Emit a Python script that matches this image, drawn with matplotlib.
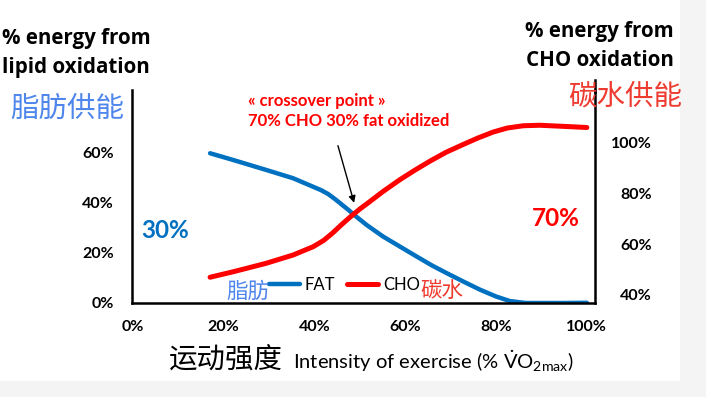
import matplotlib.pyplot as plt
from matplotlib.patches import Rectangle
from matplotlib.lines import Line2D

plt.rcParams['font.family'] = ['Lato', 'Noto Sans CJK SC', 'DejaVu Sans']
plt.rcParams['mathtext.fontset'] = 'custom'
plt.rcParams['mathtext.rm'] = 'Lato'
plt.rcParams['mathtext.it'] = 'Lato:italic'
plt.rcParams['mathtext.bf'] = 'Lato:bold'

# data (% VO2max vs % energy)
fat_x = [17.0, 22.1, 29.4, 35.3, 39.7, 41.5, 43.0, 44.5, 46.0, 47.5, 48.9, 51.5, 55.1, 58.8,
         62.5, 66.0, 69.5, 73.0, 76.5, 80.0, 83.0, 86.5, 90.0, 95.0, 100.0]
fat_y = [59.9, 57.2, 53.2, 49.9, 46.5, 45.1, 43.6, 41.6, 39.4, 37.2, 35.0, 31.2, 26.6, 22.6,
         18.6, 14.9, 11.6, 8.4, 5.3, 2.6, 0.8, 0.0, 0.0, 0.0, 0.1]
cho_x = [17.0, 22.1, 29.4, 35.3, 39.7, 42.0, 44.0, 46.0, 48.0, 50.0, 52.0, 55.1, 58.8, 62.0,
         65.5, 69.0, 72.5, 76.0, 79.4, 82.5, 86.0, 89.6, 95.5, 100.0]
cho_y = [10.3, 12.5, 15.9, 19.2, 22.5, 25.0, 28.0, 31.4, 34.6, 37.6, 40.3, 44.6, 49.3, 53.0,
         56.8, 60.3, 63.2, 66.0, 68.4, 70.0, 70.9, 71.1, 70.6, 70.2]

x_ticks = [0, 20, 40, 60, 80, 100]
left_ticks = [0, 20, 40, 60]
right_ticks = [40, 60, 80, 100]

W, H = 706, 397
fig = plt.figure(figsize=(W / 100, H / 100), dpi=100)
fig.patch.set_facecolor('white')


def px(x, y):
    return x / W, 1 - y / H


# grey border of the screenshot
fig.patches.append(Rectangle((680 / W, 0), 26 / W, 1, transform=fig.transFigure,
                             facecolor='#f4f4f4', edgecolor='none', zorder=0))
fig.patches.append(Rectangle((0, 0), 1, 1 - 381 / H, transform=fig.transFigure,
                             facecolor='#f4f4f4', edgecolor='none', zorder=0))

ax = fig.add_axes([132 / W, 1 - 303 / H, (595 - 132) / W, (303 - 90) / H])
ax.patch.set_alpha(0)
ax.plot(fat_x, fat_y, color='#0070C0', lw=3.2, solid_capstyle='round',
        solid_joinstyle='round', label='FAT')
ax.plot(cho_x, cho_y, color='#FF0000', lw=3.6, solid_capstyle='round',
        solid_joinstyle='round', label='CHO')
ax.set_xlim(-0.2, 101.8)
ax.set_ylim(0, 85.2)
ax.set_xticks(x_ticks)
ax.set_xticklabels([f'{t}%' for t in x_ticks], fontsize=11.5, fontweight='bold')
ax.set_yticks(left_ticks)
ax.set_yticklabels([f'{t}%' for t in left_ticks], fontsize=11.5, fontweight='bold')
ax.tick_params(axis='x', length=0, pad=12)
ax.tick_params(axis='y', length=0, pad=13)
for s in ['top', 'right']:
    ax.spines[s].set_visible(False)
for s in ['left', 'bottom']:
    ax.spines[s].set_linewidth(1.8)

ax2 = ax.twinx()
ax2.set_ylim(36.84, 120.92)
ax2.set_yticks(right_ticks)
ax2.set_yticklabels([f'{t}%' for t in right_ticks], fontsize=11.5, fontweight='bold', ha='right')
ax2.tick_params(axis='y', length=0, pad=41)
for s in ['top', 'left', 'bottom']:
    ax2.spines[s].set_visible(False)
ax2.spines['right'].set_linewidth(1.8)
fig.lines.append(Line2D([595 / W, 595 / W], [1 - 92 / H, 1 - 80 / H], transform=fig.transFigure,
                        color='black', lw=1.8))

leg = ax.legend(loc='center', bbox_to_anchor=(0.459, 0.085), ncol=2, frameon=False,
                handlelength=1.85, handletextpad=0.3, columnspacing=0.7,
                prop={'size': 12})

# axis titles
fig.text(*px(2, 53), '% energy from\nlipid oxidation', fontsize=14.8, fontweight='bold',
         family='Open Sans', ha='left', va='center', linespacing=1.45)
fig.text(*px(674, 46), '% energy from\nCHO oxidation', fontsize=14.8, fontweight='bold',
         family='Open Sans', ha='right', va='center', linespacing=1.45)
fig.text(*px(10, 109), '脂肪供能', fontsize=20.5, color='#4F86EC', ha='left', va='center',
         family='Noto Sans CJK SC')
fig.text(*px(568, 97), '碳水供能', fontsize=20.5, color='#EE3B30', ha='left', va='center',
         family='Noto Sans CJK SC')

# annotation
fig.text(*px(248, 111), '« crossover point »\n70% CHO 30% fat oxidized', fontsize=12,
         fontweight='bold', color='#FF0000', ha='left', va='center', linespacing=1.3)
ax.annotate('', xy=(48.9, 39), xytext=(45, 64),
            arrowprops=dict(arrowstyle='-|>', color='black', lw=1, mutation_scale=10))

fig.text(*px(141, 230), '30%', fontsize=17.5, fontweight='bold', color='#0070C0', ha='left', va='center')
fig.text(*px(532, 218), '70%', fontsize=17.5, fontweight='bold', color='#FF0000', ha='left', va='center')
fig.text(*px(226, 292), '脂肪', fontsize=15.5, color='#4F86EC', ha='left', va='center',
         family='Noto Sans CJK SC')
fig.text(*px(420, 291), '碳水', fontsize=15.5, color='#EE3B30', ha='left', va='center',
         family='Noto Sans CJK SC')

# x label
fig.text(*px(169, 361), '运动强度', fontsize=20.5, color='black', ha='left', va='center',
         family='Noto Sans CJK SC')
fig.text(*px(293, 361), r'Intensity of exercise (% $\dot{\mathrm{V}}\mathrm{O}_{\mathrm{2max}}$)',
         fontsize=14.5, color='black', ha='left', va='center')

fig.savefig('out.png', dpi=100)
